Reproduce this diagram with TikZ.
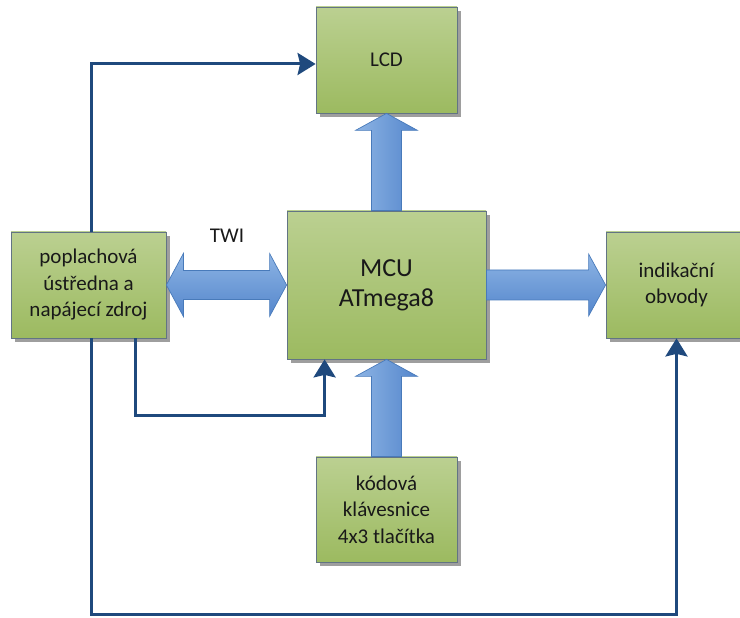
\documentclass[tikz,border=0pt]{standalone}
\usepackage{fontspec}
\setmainfont{Carlito}
\usetikzlibrary{arrows.meta,calc,shadows}

\definecolor{boxtop}{RGB}{187,208,145}
\definecolor{boxbot}{RGB}{156,186,96}
\definecolor{boxline}{RGB}{98,116,132}
\definecolor{wireblue}{RGB}{31,73,125}
\definecolor{fatlight}{RGB}{141,180,228}
\definecolor{fatdark}{RGB}{84,134,204}
\definecolor{fatline}{RGB}{72,122,186}

\tikzset{
  block/.style={draw=boxline, line width=0.8pt, top color=boxtop, bottom color=boxbot,
    inner sep=0pt, align=center, text=black!90, font=\fontsize{21}{26.5}\selectfont,
    drop shadow={shadow xshift=4pt, shadow yshift=-4pt, fill=black!38, opacity=1}},
  wire/.style={draw=wireblue, line width=3pt, -{Stealth[length=18pt,width=22pt,inset=2.5pt]}},
  fatv/.style={draw=fatline, line width=0.7pt, left color=fatlight, right color=fatdark},
  fath/.style={draw=fatline, line width=0.7pt, top color=fatlight, bottom color=fatdark},
}

% wide arrow: style, from, tip
\newcommand{\fatarrow}[3]{%
  \path ($(#3)!17pt!(#2)$) coordinate (fh);
  \draw[#1] ($(#2)!15pt!90:(#3)$) -- ($(fh)!15pt!90:(#3)$) -- ($(fh)!31pt!90:(#3)$)
    -- (#3) -- ($(fh)!31pt!-90:(#3)$) -- ($(fh)!15pt!-90:(#3)$)
    -- ($(#2)!15pt!-90:(#3)$) -- cycle;
}
% wide arrow with two heads: style, tip, tip
\newcommand{\fatdouble}[3]{%
  \path ($(#3)!17pt!(#2)$) coordinate (fh) ($(#2)!17pt!(#3)$) coordinate (fg);
  \draw[#1] (#2) -- ($(fg)!31.5pt!90:(#3)$) -- ($(fg)!14.5pt!90:(#3)$)
    -- ($(fh)!14.5pt!90:(#3)$) -- ($(fh)!31.5pt!90:(#3)$) -- (#3)
    -- ($(fh)!31.5pt!-90:(#3)$) -- ($(fh)!14.5pt!-90:(#3)$)
    -- ($(fg)!14.5pt!-90:(#3)$) -- ($(fg)!31.5pt!-90:(#3)$) -- cycle;
}

\begin{document}
\begin{tikzpicture}[x=1pt,y=1pt]
\useasboundingbox (0,0) rectangle (740,618);

\node[block, minimum width=141, minimum height=106] (lcd) at (386.5,558) {LCD};
\node[block, minimum width=155, minimum height=106] (pop) at (88.5,333) {poplachová\\ústředna a\\napájecí zdroj};
\node[block, minimum width=199, minimum height=148, font=\fontsize{26}{30}\selectfont] (mcu) at (386.5,333) {MCU\\ATmega8};
\node[block, minimum width=141, minimum height=106] (ind) at (676.5,333) {indikační\\obvody};
\node[block, minimum width=141, minimum height=105] (kod) at (386.5,108.5) {kódová\\klávesnice\\4x3 tlačítka};
\node[font=\fontsize{21}{26.5}\selectfont, text=black!90] (twi) at (227,382) {TWI};

% wide arrows
\fatarrow{fatv}{mcu.north}{lcd.south}
\fatarrow{fatv}{kod.north}{mcu.south}
\fatarrow{fath}{mcu.east}{ind.west}
\fatdouble{fath}{pop.east}{mcu.west}

% signal lines
\coordinate (floor) at (0,3);
\draw[wire] ($(pop.north)+(2.5,0)$) |- ($(lcd.west)+(0,-4)$);
\draw[wire] ($(pop.south)+(2.5,0)$) -- ($(pop.south |- floor)+(2.5,0)$) -| (ind.south);
\draw[wire] ($(pop.south east)+(-31,0)$) |- ($(mcu.south west)+(38,-56)$) -- ($(mcu.south west)+(38,0)$);
\end{tikzpicture}
\end{document}
